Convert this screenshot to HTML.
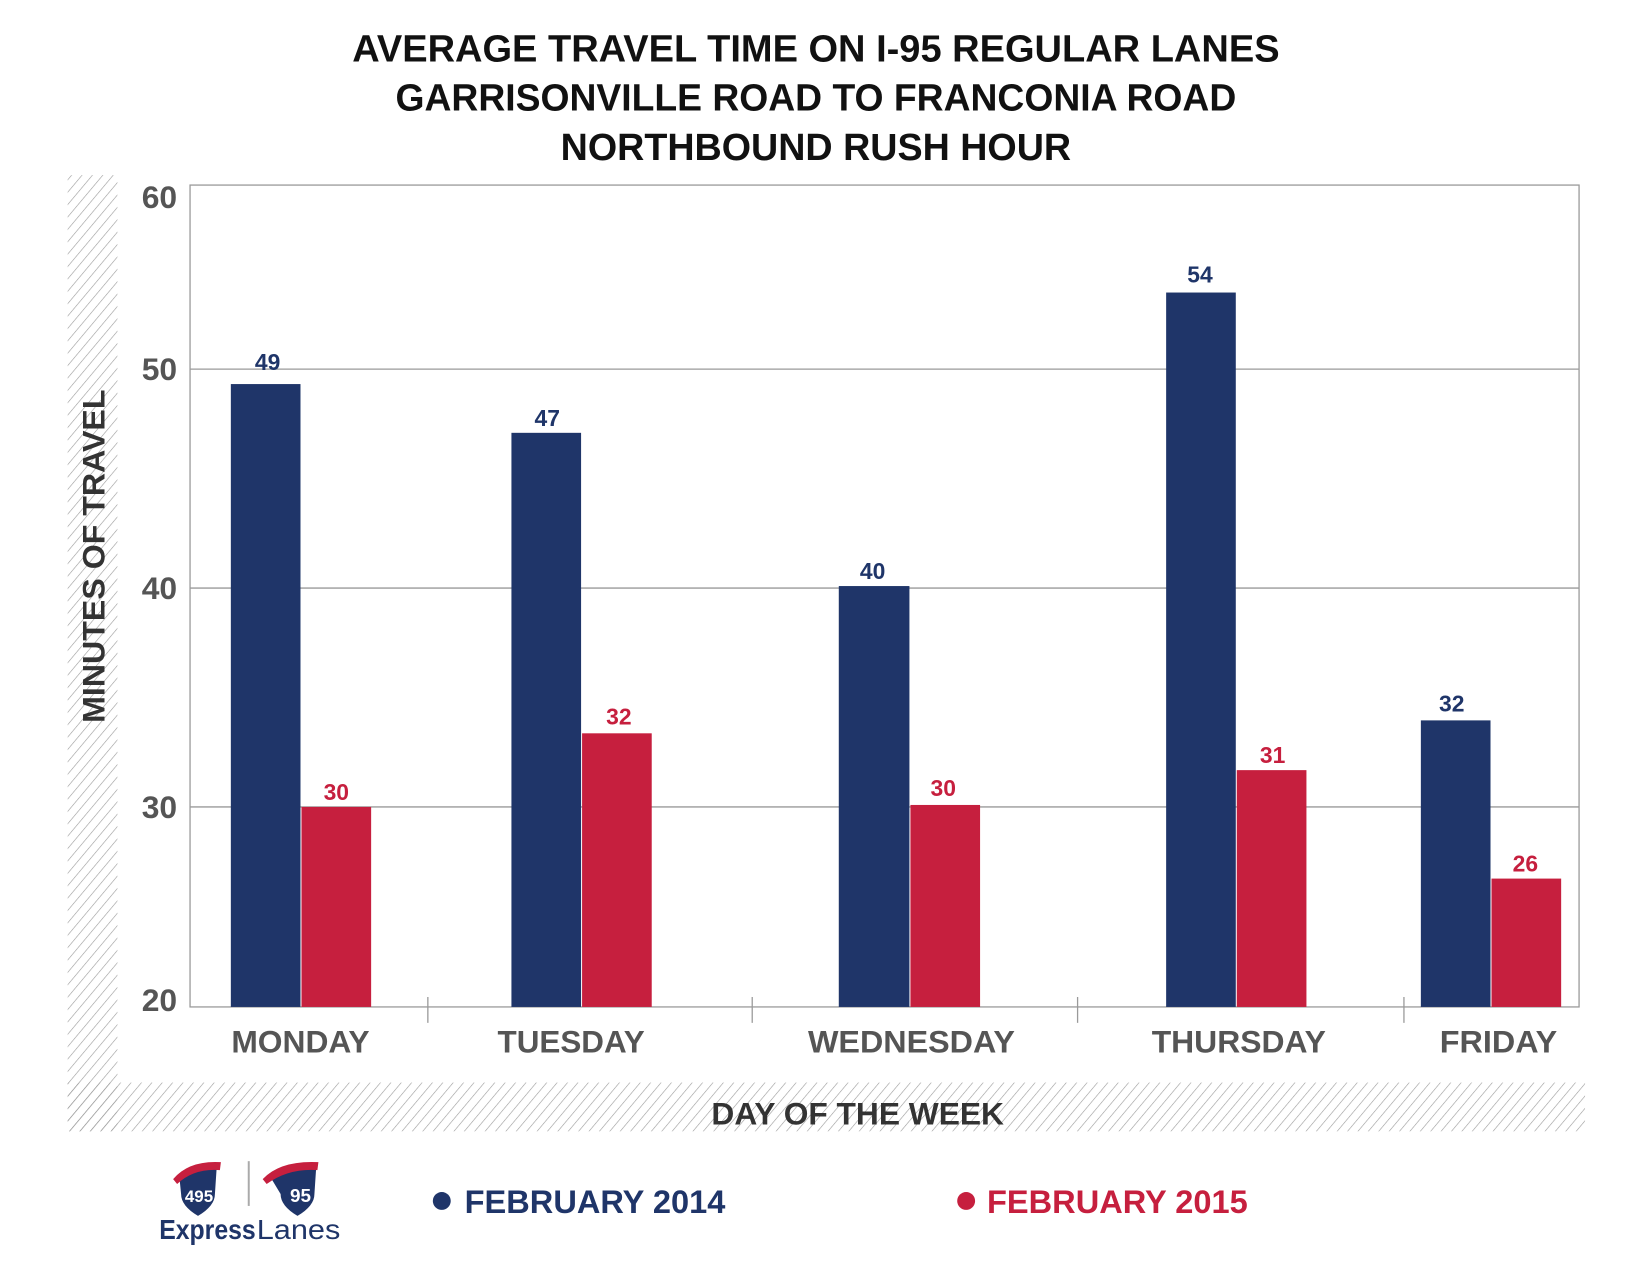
<!DOCTYPE html>
<html><head><meta charset="utf-8"><style>html,body{margin:0;padding:0;background:#fff}svg{display:block}</style></head>
<body>
<svg width="1650" height="1275" viewBox="0 0 1650 1275" xmlns="http://www.w3.org/2000/svg" font-family="Liberation Sans, sans-serif" font-weight="bold">
<defs>
<pattern id="h" patternUnits="userSpaceOnUse" width="8" height="8" patternTransform="rotate(40)">
<line x1="0" y1="0" x2="0" y2="8" stroke="#9a9a9a" stroke-width="1.2"/>
</pattern>
</defs>
<g transform="scale(0.995)">
<rect x="68" y="176" width="50" height="961" fill="url(#h)"/>
<rect x="68" y="1088" width="1525" height="49" fill="url(#h)"/>
<g font-size="38" fill="#111" text-anchor="middle">
<text x="820" y="62" textLength="932" lengthAdjust="spacingAndGlyphs">AVERAGE TRAVEL TIME ON I-95 REGULAR LANES</text>
<text x="820" y="111" textLength="845" lengthAdjust="spacingAndGlyphs">GARRISONVILLE ROAD TO FRANCONIA ROAD</text>
<text x="820" y="161" textLength="513" lengthAdjust="spacingAndGlyphs">NORTHBOUND RUSH HOUR</text>
</g>
<g stroke="#9a9a9a" stroke-width="1.3" fill="none">
<line x1="191" y1="371" x2="1587" y2="371"/>
<line x1="191" y1="591" x2="1587" y2="591"/>
<line x1="191" y1="811" x2="1587" y2="811"/>
<rect x="191" y="186" width="1396" height="826"/>
<line x1="430" y1="1002" x2="430" y2="1028"/>
<line x1="756" y1="1002" x2="756" y2="1028"/>
<line x1="1083" y1="1002" x2="1083" y2="1028"/>
<line x1="1411" y1="1002" x2="1411" y2="1028"/>
</g>
<g font-size="32" fill="#555" text-anchor="end">
<text x="178" y="209">60</text><text x="178" y="382">50</text><text x="178" y="602">40</text><text x="178" y="822">30</text><text x="178" y="1016">20</text>
</g>
<g fill="#1f3569">
<rect x="232" y="386" width="70" height="626"/>
<rect x="514" y="435" width="70" height="577"/>
<rect x="843" y="589" width="71" height="423"/>
<rect x="1172" y="294" width="70" height="718"/>
<rect x="1428" y="724" width="70" height="288"/>
</g>
<g fill="#c61f3e">
<rect x="303" y="811" width="70" height="201"/>
<rect x="585" y="737" width="70" height="275"/>
<rect x="915" y="809" width="70" height="203"/>
<rect x="1243" y="774" width="70" height="238"/>
<rect x="1499" y="883" width="70" height="129"/>
</g>
<g font-size="23" text-anchor="middle">
<g fill="#1f3569"><text x="269" y="372">49</text><text x="550" y="428">47</text><text x="877" y="582">40</text><text x="1206" y="284">54</text><text x="1459" y="715">32</text></g>
<g fill="#c61f3e"><text x="338" y="804">30</text><text x="622" y="728">32</text><text x="948" y="800">30</text><text x="1279" y="767">31</text><text x="1533" y="876">26</text></g>
</g>
<g font-size="32" fill="#555" text-anchor="middle">
<text x="302" y="1058" textLength="139" lengthAdjust="spacingAndGlyphs">MONDAY</text>
<text x="574" y="1058" textLength="148" lengthAdjust="spacingAndGlyphs">TUESDAY</text>
<text x="916" y="1058" textLength="208" lengthAdjust="spacingAndGlyphs">WEDNESDAY</text>
<text x="1245" y="1058" textLength="175" lengthAdjust="spacingAndGlyphs">THURSDAY</text>
<text x="1506" y="1058" textLength="118" lengthAdjust="spacingAndGlyphs">FRIDAY</text>
</g>
<text x="862" y="1130" font-size="32" fill="#333" text-anchor="middle" textLength="294" lengthAdjust="spacingAndGlyphs">DAY OF THE WEEK</text>
<text transform="translate(105,559) rotate(-90)" font-size="32" fill="#333" text-anchor="middle" textLength="335" lengthAdjust="spacingAndGlyphs">MINUTES OF TRAVEL</text>
<circle cx="444" cy="1207" r="9" fill="#1f3569"/>
<text x="467" y="1219" font-size="33" fill="#1f3569" textLength="262" lengthAdjust="spacingAndGlyphs">FEBRUARY 2014</text>
<circle cx="971" cy="1207" r="9" fill="#c61f3e"/>
<text x="992" y="1219" font-size="33" fill="#c61f3e" textLength="262" lengthAdjust="spacingAndGlyphs">FEBRUARY 2015</text>
<g>
<path d="M180 1180 Q195 1168 218 1170 L216 1200 Q216 1212 199 1222 Q182 1212 182 1200 Z" fill="#1f3569"/>
<path d="M174 1185 Q190 1166 222 1168 L221 1176 Q195 1174 178 1190 Z" fill="#c61f3e"/>
<text x="200" y="1208" font-size="17" fill="#fff" text-anchor="middle">495</text>
<line x1="250" y1="1167" x2="250" y2="1212" stroke="#aaa" stroke-width="2"/>
<path d="M270 1180 Q285 1168 318 1170 L316 1200 Q316 1212 299 1222 Q282 1212 282 1200 Z" fill="#1f3569"/>
<path d="M264 1185 Q282 1166 320 1168 L319 1176 Q290 1174 268 1190 Z" fill="#c61f3e"/>
<text x="302" y="1208" font-size="19" fill="#fff" text-anchor="middle">95</text>
<text x="160" y="1245" font-size="28" fill="#1f3569" textLength="97" lengthAdjust="spacingAndGlyphs">Express</text>
<text x="258" y="1245" font-size="28" font-weight="normal" fill="#1f3569" textLength="84" lengthAdjust="spacingAndGlyphs">Lanes</text>
</g>
</g>
</svg>
</body></html>
